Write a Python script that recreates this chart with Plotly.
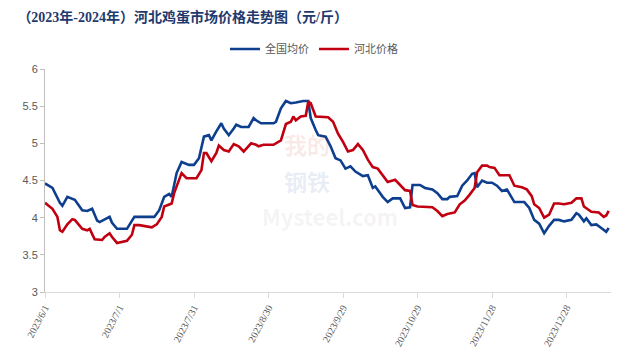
import plotly.graph_objects as go
import datetime as _dt

# ---- data ----
_base = _dt.date(2023, 6, 1)

national_day = [0, 3, 6, 7, 9, 11, 12, 15, 17, 19, 21, 22, 24, 26, 27, 29, 33, 34, 36, 38,
                44, 46, 48, 50, 51, 53, 55, 58, 60, 62, 64, 66, 67, 69, 71, 72, 74, 76, 77, 79,
                82, 84, 85, 87, 92, 93, 95, 97, 99, 101, 104, 106, 107, 109, 110, 113, 115, 117, 119, 121,
                123, 125, 128, 130, 132, 133, 136, 138, 140, 143, 145, 147, 148, 151, 153, 156, 158, 160, 162, 163,
                166, 168, 170, 172, 173, 174, 176, 178, 180, 182, 184, 186, 188, 189, 193, 195, 197, 199, 201, 203,
                205, 207, 209, 212, 214, 215, 217, 218, 220, 222, 224, 226, 227]
national_val = [4.46, 4.40, 4.20, 4.16, 4.28, 4.25, 4.24, 4.10, 4.09, 4.12, 3.96, 3.94, 3.97, 4.01, 3.93, 3.85, 3.85, 3.90, 4.01, 4.01,
                4.01, 4.10, 4.28, 4.32, 4.28, 4.60, 4.75, 4.71, 4.71, 4.80, 5.09, 5.11, 5.04, 5.16, 5.27, 5.20, 5.11, 5.20, 5.25, 5.22,
                5.22, 5.34, 5.31, 5.27, 5.27, 5.29, 5.47, 5.57, 5.54, 5.55, 5.57, 5.57, 5.34, 5.18, 5.11, 5.09, 4.96, 4.80, 4.77, 4.66,
                4.69, 4.62, 4.56, 4.57, 4.40, 4.42, 4.28, 4.21, 4.26, 4.26, 4.13, 4.14, 4.44, 4.44, 4.40, 4.38, 4.33, 4.25, 4.25, 4.28,
                4.29, 4.43, 4.50, 4.59, 4.60, 4.41, 4.50, 4.47, 4.47, 4.43, 4.36, 4.38, 4.27, 4.21, 4.21, 4.13, 3.97, 3.92, 3.79, 3.89,
                3.97, 3.97, 3.95, 3.97, 4.06, 4.04, 3.95, 3.99, 3.90, 3.91, 3.86, 3.81, 3.86]

hebei_day = [0, 3, 5, 6, 7, 9, 11, 12, 15, 17, 18, 20, 23, 24, 26, 27, 29, 31, 33, 35,
             36, 38, 41, 43, 45, 47, 48, 51, 52, 55, 57, 61, 63, 64, 65, 67, 69, 70, 72, 74,
             76, 78, 80, 83, 85, 86, 88, 92, 95, 97, 99, 100, 101, 103, 105, 106, 107, 109, 114, 116,
             118, 120, 122, 124, 126, 128, 130, 132, 134, 136, 138, 141, 143, 145, 147, 148, 150, 156, 158, 160,
             162, 165, 167, 169, 171, 173, 174, 176, 178, 179, 181, 183, 187, 189, 192, 194, 196, 197, 199, 201,
             203, 205, 207, 209, 212, 214, 216, 217, 220, 223, 225, 226, 227]
hebei_val = [4.20, 4.12, 4.01, 3.83, 3.81, 3.91, 3.98, 3.97, 3.85, 3.83, 3.85, 3.71, 3.70, 3.74, 3.79, 3.74, 3.66, 3.68, 3.69, 3.77,
             3.90, 3.90, 3.88, 3.87, 3.91, 4.01, 4.15, 4.19, 4.33, 4.60, 4.53, 4.53, 4.64, 4.87, 4.87, 4.76, 4.87, 4.97, 4.91, 4.89,
             4.99, 4.96, 4.89, 5.00, 4.98, 4.96, 4.98, 4.98, 5.04, 5.26, 5.29, 5.36, 5.31, 5.36, 5.37, 5.56, 5.54, 5.36, 5.35, 5.29,
             5.13, 5.02, 4.89, 4.91, 4.99, 4.91, 4.78, 4.68, 4.66, 4.57, 4.48, 4.51, 4.44, 4.37, 4.36, 4.17, 4.15, 4.14, 4.09, 4.02,
             4.05, 4.07, 4.18, 4.23, 4.31, 4.40, 4.61, 4.70, 4.70, 4.68, 4.67, 4.57, 4.57, 4.43, 4.41, 4.38, 4.29, 4.18, 4.13, 4.00,
             4.04, 4.19, 4.19, 4.18, 4.20, 4.26, 4.26, 4.15, 4.08, 4.07, 4.01, 4.03, 4.09]

tick_dates = ["2023-06-01", "2023-07-01", "2023-07-31", "2023-08-30", "2023-09-29", "2023-10-29", "2023-11-28", "2023-12-28"]
tick_labels = ["2023/6/1", "2023/7/1", "2023/7/31", "2023/8/30", "2023/9/29", "2023/10/29", "2023/11/28", "2023/12/28"]
y_ticks = [3, 3.5, 4, 4.5, 5, 5.5, 6]
series_names = ["全国均价", "河北价格"]
title_text = "（2023年-2024年）河北鸡蛋市场价格走势图（元/斤）"
watermark_texts = ["我的", "钢铁", "Mysteel.com"]


def to_dates(days):
    return [(_base + _dt.timedelta(days=d)).isoformat() for d in days]


fig = go.Figure()
fig.add_trace(go.Scatter(x=to_dates(national_day), y=national_val, mode="lines", name=series_names[0],
                         line=dict(color="#0E3F8E", width=2.6)))
fig.add_trace(go.Scatter(x=to_dates(hebei_day), y=hebei_val, mode="lines", name=series_names[1],
                         line=dict(color="#C00010", width=2.6)))

wm_style = [
    dict(x=0.463, y=0.662, color="rgba(200,30,30,0.10)", size=23),
    dict(x=0.463, y=0.500, color="rgba(30,70,150,0.10)", size=23),
    dict(x=0.504, y=0.340, color="rgba(140,140,140,0.10)", size=22),
]
annotations = [dict(text="<b>" + t + "</b>", x=s["x"], y=s["y"], xref="paper", yref="paper", showarrow=False,
                    font=dict(size=s["size"], color=s["color"], family="Noto Sans CJK SC"))
               for t, s in zip(watermark_texts, wm_style)]

fig.update_layout(
    width=625, height=357,
    margin=dict(l=37, r=22, t=61, b=73),
    paper_bgcolor="white", plot_bgcolor="white",
    title=dict(text="<b>" + title_text + "</b>", x=0.015, xanchor="left", y=0.975, yanchor="middle",
               font=dict(size=14, color="#1F3A6E", family="Liberation Serif, Noto Sans CJK SC")),
    legend=dict(orientation="h", x=0.318, xanchor="left", y=1.09, yanchor="middle",
                font=dict(size=11, color="#595959", family="Noto Sans CJK SC"),
                bgcolor="rgba(0,0,0,0)", itemwidth=30, tracegroupgap=0),
    annotations=annotations,
    showlegend=True,
)
fig.update_xaxes(
    type="date", range=["2023-06-01", "2024-01-14 22:00"],
    tickvals=tick_dates, ticktext=tick_labels, tickangle=-62,
    tickfont=dict(size=10, color="#595959", family="Liberation Serif"),
    showgrid=False, zeroline=False, showline=True, linecolor="#D9D9D9", linewidth=1,
    ticks="outside", ticklen=5, tickcolor="#D9D9D9",
)
fig.update_yaxes(
    range=[3, 6], tickvals=y_ticks, ticktext=[str(v) for v in y_ticks],
    tickfont=dict(size=11, color="#595959", family="Liberation Sans"),
    showgrid=False, zeroline=False, showline=True, linecolor="#BFBFBF", linewidth=1,
    ticks="outside", ticklen=4, tickcolor="#BFBFBF",
)

fig.write_html("out.html")
